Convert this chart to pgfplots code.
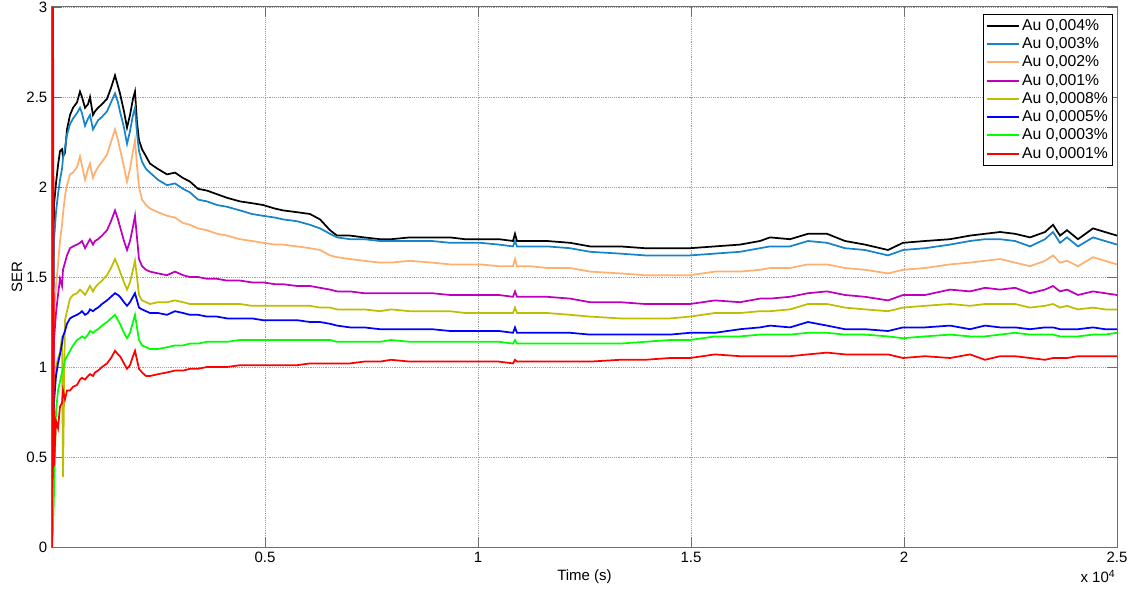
\documentclass[border=0pt]{standalone}
\usepackage{fontspec}
\setmainfont{Liberation Sans}
\usepackage{pgfplots}
\usepackage{pgfplotstable}
\pgfplotsset{compat=1.18}

\definecolor{ser004}{RGB}{0,0,0}
\definecolor{ser003}{RGB}{22,132,200}
\definecolor{ser002}{RGB}{255,175,110}
\definecolor{ser001}{RGB}{190,0,190}
\definecolor{ser0008}{RGB}{190,190,0}
\definecolor{ser0005}{RGB}{0,0,255}
\definecolor{ser0003}{RGB}{0,255,0}
\definecolor{ser0001}{RGB}{255,0,0}
\definecolor{axgray}{RGB}{110,110,110}

\newcommand\fs{\fontsize{11.25}{13}\selectfont}
\newcommand\lfs{\fontsize{11.8}{13.5}\selectfont}

% SER against time for each Au concentration
% t: time (s); k: 0.004%, c: 0.003%, o: 0.002%, m: 0.001%,
% y: 0.0008%, b: 0.0005%, g: 0.0003%, r: 0.0001%
\pgfplotstableread{
t     k    c    o    m    y    b    g    r
0     0    0    0    0    0    0    0    0
24    1.20 1.00 0.90 0.80 0.60 0.60 0.10 3.00
47    1.90 1.70 1.30 1.15 0.90 0.80 0.30 0.45
94    2.02 1.86 1.45 1.30 1.00 0.95 0.75 0.70
141   2.12 1.96 1.57 1.40 1.05 1.02 0.87 0.66
188   2.20 2.04 1.70 1.49 1.08 1.07 0.92 0.78
235   2.21 2.10 1.79 1.45 1.17 1.13 0.97 0.80
258   2.17 2.16 1.85 1.54 0.39 1.17 0.99 0.87
305   2.19 2.22 1.95 1.58 1.26 1.20 1.04 0.82
352   2.32 2.29 2.01 1.62 1.31 1.24 1.06 0.87
423   2.40 2.35 2.07 1.66 1.38 1.27 1.09 0.87
493   2.44 2.38 2.08 1.67 1.40 1.28 1.12 0.89
587   2.47 2.41 2.11 1.68 1.41 1.29 1.15 0.90
657   2.53 2.44 2.17 1.69 1.43 1.30 1.16 0.93
704   2.50 2.41 2.12 1.70 1.42 1.31 1.17 0.94
775   2.44 2.34 2.04 1.66 1.40 1.29 1.16 0.93
845   2.46 2.38 2.10 1.69 1.43 1.30 1.18 0.95
892   2.50 2.40 2.13 1.71 1.45 1.32 1.20 0.96
962   2.40 2.32 2.05 1.68 1.42 1.31 1.19 0.95
1009  2.42 2.34 2.08 1.70 1.44 1.32 1.20 0.97
1080  2.44 2.37 2.11 1.71 1.46 1.33 1.21 0.98
1174  2.46 2.39 2.14 1.73 1.48 1.35 1.23 1.00
1291  2.49 2.42 2.18 1.76 1.51 1.37 1.25 1.02
1385  2.55 2.47 2.25 1.81 1.55 1.39 1.27 1.05
1479  2.62 2.52 2.32 1.87 1.60 1.41 1.29 1.09
1549  2.56 2.47 2.26 1.82 1.56 1.40 1.26 1.07
1596  2.52 2.42 2.21 1.78 1.53 1.39 1.24 1.06
1690  2.42 2.33 2.11 1.70 1.47 1.36 1.19 1.02
1761  2.33 2.24 2.03 1.65 1.43 1.34 1.16 0.99
1831  2.40 2.31 2.10 1.70 1.47 1.36 1.19 1.01
1901  2.49 2.40 2.20 1.78 1.54 1.39 1.25 1.06
1948  2.53 2.44 2.26 1.84 1.59 1.41 1.29 1.09
1995  2.36 2.30 2.12 1.72 1.50 1.37 1.22 1.04
2042  2.26 2.20 2.00 1.60 1.40 1.33 1.15 0.99
2113  2.21 2.14 1.93 1.56 1.37 1.32 1.12 0.97
2207  2.17 2.10 1.90 1.54 1.36 1.31 1.11 0.95
2300  2.13 2.08 1.88 1.53 1.35 1.30 1.10 0.95
2488  2.10 2.04 1.86 1.52 1.36 1.30 1.10 0.96
2700  2.07 2.01 1.84 1.51 1.36 1.29 1.11 0.97
2887  2.08 2.02 1.83 1.53 1.37 1.31 1.12 0.98
3075  2.05 1.99 1.80 1.51 1.36 1.30 1.12 0.98
3239  2.03 1.97 1.79 1.50 1.35 1.29 1.13 0.99
3427  1.99 1.93 1.77 1.50 1.35 1.29 1.13 0.99
3638  1.98 1.92 1.76 1.49 1.35 1.28 1.14 1.00
3873  1.96 1.90 1.74 1.49 1.35 1.28 1.14 1.00
4108  1.94 1.89 1.73 1.48 1.35 1.27 1.14 1.00
4413  1.92 1.87 1.71 1.48 1.35 1.27 1.15 1.01
4695  1.91 1.85 1.70 1.47 1.34 1.27 1.15 1.01
4953  1.90 1.84 1.69 1.47 1.34 1.26 1.15 1.01
5235  1.88 1.83 1.68 1.46 1.34 1.26 1.15 1.01
5423  1.87 1.82 1.68 1.46 1.34 1.26 1.15 1.01
5751  1.86 1.81 1.67 1.45 1.34 1.26 1.15 1.01
6056  1.85 1.79 1.66 1.45 1.34 1.25 1.15 1.02
6291  1.82 1.77 1.65 1.44 1.33 1.25 1.15 1.02
6526  1.76 1.74 1.62 1.43 1.33 1.24 1.15 1.02
6690  1.73 1.72 1.61 1.42 1.32 1.23 1.14 1.02
6995  1.73 1.71 1.60 1.42 1.32 1.22 1.14 1.02
7324  1.72 1.71 1.59 1.41 1.32 1.22 1.14 1.03
7699  1.71 1.70 1.58 1.41 1.31 1.21 1.14 1.03
7958  1.71 1.70 1.58 1.41 1.32 1.21 1.15 1.04
8404  1.72 1.70 1.59 1.41 1.31 1.21 1.14 1.03
8920  1.72 1.70 1.58 1.41 1.31 1.21 1.14 1.03
9343  1.72 1.69 1.57 1.40 1.31 1.20 1.14 1.03
9695  1.71 1.69 1.57 1.40 1.30 1.20 1.14 1.03
10047 1.71 1.69 1.57 1.40 1.30 1.20 1.14 1.03
10493 1.71 1.68 1.56 1.40 1.30 1.20 1.14 1.03
10822 1.70 1.67 1.56 1.39 1.30 1.19 1.13 1.02
10868 1.74 1.70 1.60 1.42 1.33 1.22 1.15 1.04
10915 1.70 1.67 1.56 1.39 1.30 1.19 1.13 1.03
11221 1.70 1.67 1.56 1.39 1.30 1.19 1.13 1.03
11620 1.70 1.67 1.55 1.39 1.30 1.19 1.13 1.03
12160 1.69 1.66 1.55 1.38 1.29 1.19 1.13 1.03
12629 1.67 1.64 1.53 1.36 1.28 1.18 1.13 1.03
13333 1.67 1.63 1.52 1.36 1.27 1.18 1.13 1.04
13920 1.66 1.62 1.51 1.35 1.27 1.18 1.14 1.04
14507 1.66 1.62 1.51 1.35 1.27 1.18 1.15 1.05
14977 1.66 1.62 1.51 1.35 1.28 1.19 1.15 1.05
15563 1.67 1.63 1.53 1.37 1.30 1.19 1.17 1.07
16150 1.68 1.64 1.53 1.36 1.30 1.21 1.17 1.06
16620 1.70 1.66 1.54 1.38 1.31 1.22 1.18 1.06
16854 1.72 1.67 1.55 1.38 1.31 1.23 1.18 1.06
17324 1.71 1.67 1.55 1.39 1.32 1.22 1.18 1.06
17746 1.74 1.70 1.57 1.41 1.35 1.25 1.19 1.07
18192 1.74 1.69 1.57 1.42 1.35 1.23 1.19 1.08
18615 1.70 1.66 1.55 1.40 1.33 1.21 1.18 1.07
19084 1.68 1.65 1.54 1.39 1.32 1.21 1.18 1.07
19624 1.65 1.62 1.52 1.37 1.31 1.20 1.17 1.07
19977 1.69 1.65 1.54 1.40 1.33 1.22 1.16 1.05
20493 1.70 1.66 1.55 1.40 1.34 1.22 1.17 1.06
21080 1.71 1.68 1.57 1.43 1.35 1.23 1.18 1.05
21549 1.73 1.70 1.58 1.42 1.34 1.21 1.17 1.07
21901 1.74 1.71 1.59 1.44 1.35 1.23 1.17 1.04
22254 1.75 1.71 1.60 1.43 1.35 1.22 1.18 1.06
22606 1.74 1.70 1.58 1.44 1.35 1.22 1.19 1.06
22958 1.72 1.67 1.56 1.41 1.33 1.21 1.18 1.05
23310 1.75 1.71 1.59 1.43 1.34 1.22 1.18 1.04
23498 1.79 1.75 1.62 1.45 1.35 1.22 1.18 1.05
23662 1.73 1.69 1.58 1.42 1.33 1.21 1.17 1.05
23826 1.76 1.72 1.59 1.43 1.34 1.21 1.17 1.05
24084 1.71 1.67 1.56 1.40 1.32 1.21 1.17 1.06
24436 1.77 1.72 1.61 1.42 1.33 1.22 1.18 1.06
24718 1.75 1.70 1.59 1.41 1.32 1.21 1.18 1.06
25000 1.73 1.68 1.57 1.40 1.32 1.21 1.19 1.06
}\sertable

\begin{document}
\begin{tikzpicture}
\begin{axis}[
  scale only axis, width=798.75pt, height=405pt,
  xmin=0, xmax=25000, ymin=0, ymax=3,
  xtick={5000,10000,15000,20000,25000},
  xticklabels={0.5,1,1.5,2,2.5},
  scaled x ticks=false,
  ytick={0,0.5,1,1.5,2,2.5,3},
  yticklabels={0,0.5,1,1.5,2,2.5,3},
  grid=major,
  major grid style={densely dotted, gray!75, line width=0.6pt},
  axis line style={axgray, line width=0.75pt},
  tick style={axgray, line width=0.6pt},
  tick align=inside, major tick length=7.5pt,
  ticklabel style={font=\fs},
  /pgf/number format/assume math mode=true,
  xlabel={Time (s)}, ylabel={SER},
  label style={font=\fs},
  xlabel style={at={(axis description cs:0.5,0)}, anchor=north, inner sep=0pt, yshift=-16.5pt},
  ylabel style={at={(axis description cs:-0.033,0.5)}, anchor=center, inner sep=0pt},
  legend style={at={(axis description cs:1,1)}, anchor=north east,
    xshift=-3pt, yshift=-5.25pt, draw=black, fill=white, font=\lfs,
    inner sep=1.5pt, row sep=0pt, line width=0.6pt},
  legend cell align=left,
  legend image code/.code={\draw[#1, line width=1.5pt] (0pt,0pt) -- (24pt,0pt);},
  every axis plot/.append style={line width=1.3pt},
]
\addplot[ser004]  table[x=t, y=k] {\sertable};
\addlegendentry{Au 0,004\%}
\addplot[ser003]  table[x=t, y=c] {\sertable};
\addlegendentry{Au 0,003\%}
\addplot[ser002]  table[x=t, y=o] {\sertable};
\addlegendentry{Au 0,002\%}
\addplot[ser001]  table[x=t, y=m] {\sertable};
\addlegendentry{Au 0,001\%}
\addplot[ser0008] table[x=t, y=y] {\sertable};
\addlegendentry{Au 0,0008\%}
\addplot[ser0005] table[x=t, y=b] {\sertable};
\addlegendentry{Au 0,0005\%}
\addplot[ser0003] table[x=t, y=g] {\sertable};
\addlegendentry{Au 0,0003\%}
\addplot[ser0001] table[x=t, y=r] {\sertable};
\addlegendentry{Au 0,0001\%}
\end{axis}
\node[font=\fs, anchor=north east, inner sep=0pt] at ([xshift=-1pt, yshift=-17pt]current axis.south east) {x 10\textsuperscript{4}};
\pgfresetboundingbox
\path[use as bounding box] ([xshift=-39pt, yshift=-33.75pt]current axis.south west)
  rectangle ([xshift=9pt, yshift=5.25pt]current axis.north east);
\end{tikzpicture}
\end{document}
